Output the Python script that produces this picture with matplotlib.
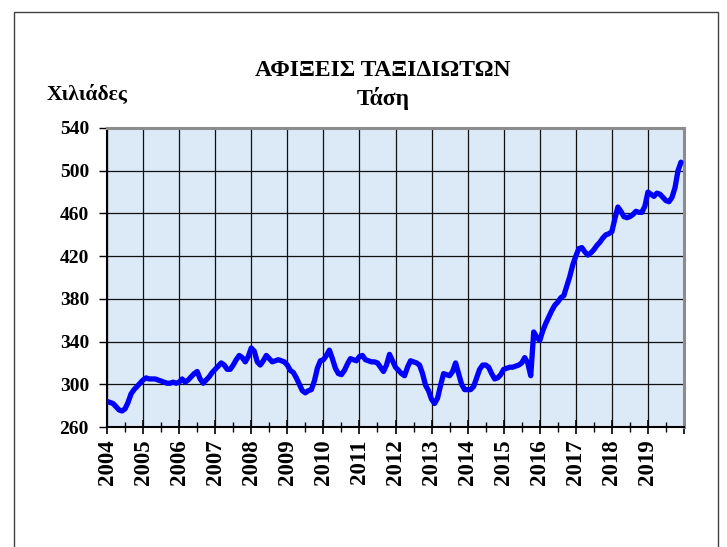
import matplotlib
matplotlib.use("Agg")
import matplotlib.pyplot as plt
import numpy as np
from matplotlib.patches import Rectangle

# ---- data (thousands, monthly trend 2004-01 .. 2019-12) ----
years = list(range(2004, 2020))
v2004 = [284, 283, 282, 279, 276, 275, 277, 283, 291, 295, 298, 301]
v2005 = [304, 306, 305, 305, 305, 304, 303, 302, 301, 301, 302, 301]
v2006 = [302, 305, 302, 304, 307, 310, 312, 305, 301, 304, 307, 311]
v2007 = [314, 317, 320, 318, 314, 314, 318, 323, 327, 325, 321, 326]
v2008 = [334, 331, 321, 318, 322, 327, 324, 321, 322, 323, 322, 321]
v2009 = [318, 313, 311, 306, 300, 294, 292, 294, 295, 303, 315, 322]
v2010 = [323, 327, 332, 324, 315, 310, 309, 313, 319, 324, 323, 322]
v2011 = [326, 327, 323, 322, 321, 321, 320, 316, 312, 318, 328, 322]
v2012 = [316, 313, 310, 308, 316, 322, 321, 320, 318, 310, 299, 294]
v2013 = [286, 282, 287, 299, 310, 309, 308, 312, 320, 310, 300, 295]
v2014 = [295, 295, 298, 306, 314, 318, 318, 316, 310, 305, 306, 309]
v2015 = [314, 315, 316, 316, 317, 318, 320, 325, 320, 308, 349, 344]
v2016 = [341, 350, 357, 363, 369, 374, 377, 381, 383, 392, 401, 412]
v2017 = [420, 427, 428, 424, 421, 423, 426, 430, 433, 437, 440, 441]
v2018 = [443, 455, 466, 462, 457, 456, 457, 459, 462, 461, 461, 467]
v2019 = [480, 478, 476, 479, 478, 475, 472, 471, 475, 484, 500, 508]
series = (v2004 + v2005 + v2006 + v2007 + v2008 + v2009 + v2010 + v2011 +
          v2012 + v2013 + v2014 + v2015 + v2016 + v2017 + v2018 + v2019)
year_labels = [str(y) for y in years]
y_ticks = [260, 300, 340, 380, 420, 460, 500, 540]

title1 = "ΑΦΙΞΕΙΣ ΤΑΞΙΔΙΩΤΩΝ"
title2 = "Τάση"
ylabel = "Χιλιάδες"

# ---- figure ----
W, H = 727, 547
fig = plt.figure(figsize=(W / 100, H / 100), dpi=100)
fig.patch.set_facecolor("white")

serif = ["Liberation Serif", "DejaVu Serif"]

# outer chart border (extends past bottom of image)
fig.patches.append(Rectangle((14 / W, -0.05), (718 - 14) / W, 1.05 - 12 / H,
                             transform=fig.transFigure, fill=False,
                             edgecolor="#404040", linewidth=1.0))

ax = fig.add_axes([107 / W, (H - 427) / H, (684 - 107) / W, (427 - 128) / H])
ax.set_facecolor("#dce9f7")

x = 2004 + np.arange(len(series)) / 12.0
ax.plot(x, series, color="#0000ff", linewidth=3.8, solid_capstyle="round",
        solid_joinstyle="round", zorder=3)

ax.set_xlim(2004, 2020)
ax.set_ylim(260, 540)
ax.set_yticks(y_ticks)
ax.set_yticklabels([str(v) for v in y_ticks], fontfamily=serif,
                   fontweight="bold", fontsize=14)
ax.set_xticks(years + [2020])
ax.set_xticklabels(year_labels + [""], rotation=90, fontfamily=serif,
                   fontweight="bold", fontsize=16.5)
ax.set_xticks(np.arange(2004.5, 2020, 1.0), minor=True)

ax.grid(True, which="major", color="#111111", linewidth=0.9, zorder=1)
ax.set_axisbelow(True)

ax.tick_params(axis="y", direction="out", length=6, width=1, pad=7,
               colors="black")
ax.tick_params(axis="x", which="major", direction="inout", length=10,
               width=1.2, pad=4)
ax.tick_params(axis="x", which="minor", direction="inout", length=7, width=1)

for s in ["left", "bottom"]:
    ax.spines[s].set_color("black")
    ax.spines[s].set_linewidth(1.5)
for s in ["top", "right"]:
    ax.spines[s].set_color("#8c8c8c")
    ax.spines[s].set_linewidth(2.2)

fig.text(383 / W, 1 - 71 / H, title1, ha="center", va="center",
         fontfamily=serif, fontweight="bold", fontsize=17)
fig.text(383 / W, 1 - 98 / H, title2, ha="center", va="center",
         fontfamily=serif, fontweight="bold", fontsize=17)
fig.text(87 / W, 1 - 95 / H, ylabel, ha="center", va="center",
         fontfamily=serif, fontweight="bold", fontsize=15.5)

fig.savefig("out.png", dpi=100, facecolor="white")
